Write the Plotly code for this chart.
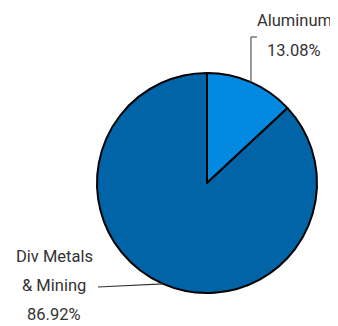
import math
import plotly.graph_objects as go

labels = ["Aluminum", "Div Metals & Mining"]
values = [13.08, 86.92]
label_lines = [["Aluminum", "13.08%"], ["Div Metals", "& Mining", "86.92%"]]
colors = ["#038ae0", "#0064a6"]

OFF = 8  # default page body margin
W, H = 338 - OFF, 326 - OFF
cx, cy, r = 207 - OFF, 183 - OFF, 110

fig = go.Figure(go.Pie(
    labels=labels, values=values, sort=False, direction="clockwise", rotation=0,
    marker=dict(colors=colors, line=dict(color="#000000", width=2)),
    textinfo="none", hoverinfo="label+percent", showlegend=False,
    domain=dict(x=[(cx - r) / W, (cx + r) / W], y=[(H - cy - r) / H, (H - cy + r) / H]),
))

def px(x, y):
    return (x - OFF) / W, 1 - (y - OFF) / H

# midpoint angles of slices (page pixels)
total = sum(values)
cum = 0
mids = []
for v in values:
    a = (cum + v / 2) / total * 2 * math.pi
    mids.append((cx + OFF + r * math.sin(a), cy + OFF - r * math.cos(a)))
    cum += v

shapes = []
font = dict(family="Roboto, sans-serif", size=16.5, color="#333333")
annotations = []

# Aluminum leader
ex, ey = mids[0]
for (x0, y0, x1, y1) in [(ex, ey, ex, 37), (ex, 37, ex + 6, 37)]:
    a0 = px(x0, y0); a1 = px(x1, y1)
    shapes.append(dict(type="line", xref="paper", yref="paper", x0=a0[0], y0=a0[1], x1=a1[0], y1=a1[1],
                       line=dict(color="#555555", width=1.2)))
for t, yy in zip(label_lines[0], [21, 51]):
    p = px(294, yy)
    annotations.append(dict(text=t, x=p[0], y=p[1], xref="paper", yref="paper", showarrow=False,
                            xanchor="center", yanchor="middle", font=font))

# Div Metals leader
ex, ey = mids[1]
a0 = px(ex, ey); a1 = px(98, 287)
shapes.append(dict(type="line", xref="paper", yref="paper", x0=a0[0], y0=a0[1], x1=a1[0], y1=a1[1],
                   line=dict(color="#333333", width=1.2)))
for t, yy in zip(label_lines[1], [256, 285, 314]):
    p = px(54, yy)
    annotations.append(dict(text=t, x=p[0], y=p[1], xref="paper", yref="paper", showarrow=False,
                            xanchor="center", yanchor="middle", font=font))

fig.update_layout(width=W, height=H, margin=dict(l=0, r=0, t=0, b=0),
                  paper_bgcolor="white", plot_bgcolor="white",
                  shapes=shapes, annotations=annotations)
fig.write_html("out.html")
